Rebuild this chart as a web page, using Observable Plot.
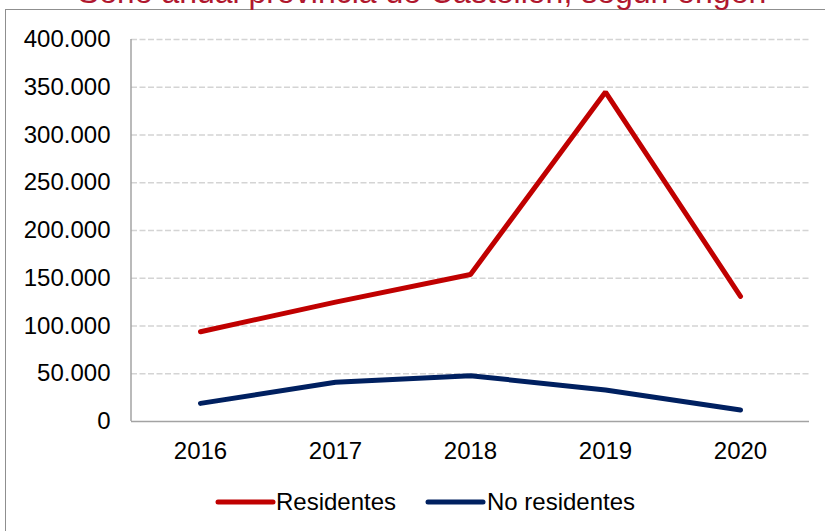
<!DOCTYPE html>
<html>
<head>
<meta charset="utf-8">
<script src="https://cdn.jsdelivr.net/npm/d3@7"></script>
<script src="https://cdn.jsdelivr.net/npm/@observablehq/plot@0.6"></script>
<style>
  html, body { margin: 0; padding: 0; background: #fff; }
  #wrap { position: relative; width: 825px; height: 531px; overflow: hidden; font-family: "Liberation Sans", Arial, sans-serif; }
  #frame { position: absolute; left: 5px; top: 9px; width: 1000px; height: 700px; border-left: 1.5px solid #8f8f8f; border-top: 1.5px solid #8f8f8f; }
  #title { position: absolute; left: 0; width: 844px; top: -24px; text-align: center; font-size: 32px; line-height: 32px; color: #B0172E; white-space: nowrap; }
  #chart { position: absolute; left: 0; top: 0; }
  .leg { position: absolute; top: 490px; font-size: 24px; line-height: 24px; color: #000; white-space: nowrap; }
  .sw { position: absolute; top: 497px; }
</style>
</head>
<body>
<div id="wrap">
  <div id="frame"></div>
  <div id="title">Serie anual provincia de Castellón, según origen</div>
  <div id="chart"></div>
  <div id="legend"></div>
</div>
<script>
const years = ["2016", "2017", "2018", "2019", "2020"];
const residentes = [94000, 125000, 154000, 345000, 131000];
const noResidentes = [19000, 41000, 48000, 33000, 12000];
const yTicks = [0, 50000, 100000, 150000, 200000, 250000, 300000, 350000, 400000];
const seriesNames = ["Residentes", "No residentes"];
const seriesColors = ["#C00000", "#002060"];

const data = [
  ...years.map((y, i) => ({year: y, value: residentes[i], serie: seriesNames[0]})),
  ...years.map((y, i) => ({year: y, value: noResidentes[i], serie: seriesNames[1]}))
];

const locale = d3.formatLocale({decimal: ",", thousands: ".", grouping: [3], currency: ["", "€"]});
const fmt = locale.format(",d");

const chart = Plot.plot({
  width: 825,
  height: 480,
  marginTop: 39,
  marginBottom: 59,
  marginLeft: 131,
  marginRight: 16,
  style: {fontFamily: "'Liberation Sans', Arial, sans-serif", fontSize: "24px", color: "#000", background: "transparent"},
  x: {type: "point", domain: years, padding: 0.5},
  y: {domain: [0, 400000]},
  color: {domain: seriesNames, range: seriesColors},
  marks: [
    Plot.ruleY(yTicks.filter(d => d > 0), {stroke: "#d4d4d4", strokeWidth: 1.3, strokeDasharray: "6,2.5"}),
    Plot.ruleY([0], {stroke: "#a3a3a3", strokeWidth: 1.5}),
    Plot.ruleX([0], {x: () => null, frameAnchor: "left", stroke: "#a3a3a3", strokeWidth: 1.5}),
    Plot.axisY({ticks: yTicks, tickFormat: fmt, tickSize: 0, tickPadding: 21, fontSize: 24, label: null}),
    Plot.axisX({tickSize: 0, tickPadding: 20, fontSize: 24, label: null}),
    Plot.lineY(data, {x: "year", y: "value", z: "serie", stroke: "serie", strokeWidth: 5, strokeLinecap: "round", strokeLinejoin: "miter"})
  ]
});
document.getElementById("chart").appendChild(chart);

// left axis line drawn as frame-left rule via a separate small svg element
const svg = d3.select(chart);
const yScale = chart.scale("y");
const xScale = chart.scale("x");
svg.append("line")
  .attr("x1", 131).attr("x2", 131)
  .attr("y1", yScale.apply(400000)).attr("y2", yScale.apply(0))
  .attr("stroke", "#a3a3a3").attr("stroke-width", 1.5);

// legend
const legend = document.getElementById("legend");
const legItems = [
  {name: seriesNames[0], color: seriesColors[0], sx: 218, tx: 276},
  {name: seriesNames[1], color: seriesColors[1], sx: 428, tx: 487}
];
legItems.forEach(it => {
  const sw = document.createElementNS("http://www.w3.org/2000/svg", "svg");
  sw.setAttribute("width", 62); sw.setAttribute("height", 10);
  sw.setAttribute("class", "sw");
  sw.style.left = (it.sx - 3) + "px";
  sw.innerHTML = `<line x1="3" x2="58" y1="5" y2="5" stroke="${it.color}" stroke-width="5" stroke-linecap="round"/>`;
  legend.appendChild(sw);
  const t = document.createElement("div");
  t.className = "leg";
  t.style.left = it.tx + "px";
  t.textContent = it.name;
  legend.appendChild(t);
});
</script>
</body>
</html>
